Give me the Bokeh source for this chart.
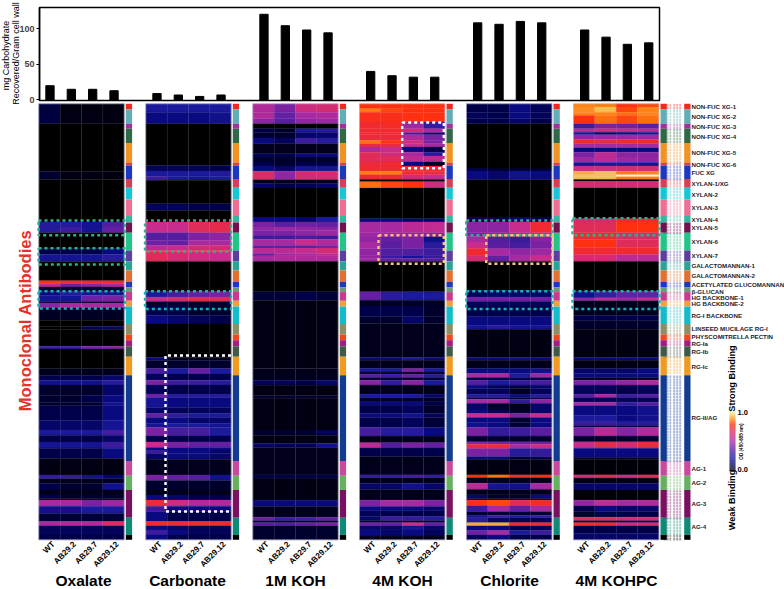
from bokeh.plotting import figure
from bokeh.layouts import column
from bokeh.models import Range1d, FixedTicker
from bokeh.core.properties import value
from bokeh.embed import file_html
from bokeh.resources import INLINE
import math

genotypes = ["WT", "AB29.2", "AB29.7", "AB29.12"]
fractions = ["Oxalate", "Carbonate", "1M KOH", "4M KOH", "Chlorite", "4M KOHPC"]

carb_oxalate = [20, 15, 15, 13]
carb_carbonate = [9, 7, 5, 7]
carb_1m_koh = [120, 104, 98, 94]
carb_4m_koh = [40, 34, 32, 32]
carb_chlorite = [108, 106, 110, 108]
carb_4m_kohpc = [98, 88, 78, 80]

# Heat bands: (first row, WT, AB29.2, AB29.7, AB29.12); each band lasts until the next one. Binding x 100.
heat_oxalate = [
 (0,7,2,2,2),(6.9,0,0,0,0),(23.3,5,2,2,2),(26.1,0,0,0,0),(40.8,25,25,20,35),(42.5,25,30,20,38),(44.5,0,0,0,0),
 (50,8,8,8,15),(52,20,20,20,25),(54.4,0,0,0,0),(61.1,78,72,72,72),(62.1,55,40,45,50),(63.2,5,5,5,5),
 (64.9,15,25,20,20),(66.1,20,20,40,42),(68.2,5,5,5,5),(68.8,45,50,50,50),(70.4,4,4,4,4),(74.7,0,0,0,0),
 (76.8,0,0,10,12),(77.8,0,0,0,0),(83.7,30,30,42,44),(84.6,0,0,0,0),(91.4,3,3,3,3),(93.7,8,8,8,12),
 (95.4,18,18,18,25),(97.1,5,5,5,12),(100.6,5,5,8,15),(103,5,5,5,18),(104.2,8,8,8,15),(109.2,12,12,12,20),
 (112.6,22,22,22,32),(114.4,8,8,8,12),(116.7,20,20,20,30),(118.9,8,8,8,15),(122.4,2,2,2,2),(128.1,28,28,18,12),
 (129.4,3,3,3,3),(131,8,5,5,18),(133.3,3,3,3,3),(135,8,5,5,5),(136.2,3,3,3,3),(136.8,50,50,42,48),(138.9,18,18,22,22),
 (141.4,6,6,6,6),(144.2,50,52,52,64),(145.7,10,10,10,10),(148.8,8,8,8,8),
]
heat_carbonate = [
 (0,22,22,22,22),(2.9,15,15,15,18),(6.9,0,0,0,0),(21.3,10,10,10,8),(23.2,22,22,22,24),(25,30,22,20,22),(26.4,0,0,0,0),
 (34.5,10,10,8,8),(36.8,0,0,0,0),(40.8,58,58,66,68),(44.5,35,35,42,45),(47.1,40,38,50,50),(48.9,55,58,62,62),
 (50.6,72,72,72,72),(51.1,66,62,60,58),(54.4,0,0,0,0),(64.9,22,32,38,42),(66.7,58,62,68,66),(68.2,5,5,5,5),
 (69.8,8,8,5,5),(73,15,12,10,8),(76,0,0,0,0),(87.6,15,3,3,3),(88.5,5,5,5,5),(91.4,32,22,38,22),(93.3,10,8,8,8),
 (95.4,42,30,30,25),(97.1,10,8,8,8),(100.2,40,25,25,25),(101.4,20,15,15,15),(104.8,12,10,10,10),(106.9,38,28,22,22),
 (108.3,15,15,12,12),(110.3,20,22,22,20),(111.7,42,32,32,22),(114.7,8,8,8,8),(116.7,58,42,38,38),(118.6,15,15,15,15),
 (119.5,30,15,15,12),(120.7,12,15,15,12),(122.7,3,3,3,3),(128.1,42,38,35,18),(130,5,5,5,5),(133.3,3,3,3,3),
 (135,15,12,8,8),(136.8,70,60,52,52),(138.9,30,15,15,15),(140.8,15,8,8,8),(144.2,72,70,72,72),(145.7,15,12,10,10),
 (147.1,30,15,10,10),(148.8,15,8,8,8),
]
heat_1m_koh = [
 (0,52,42,60,62),(2.9,52,38,50,52),(5.2,45,36,46,48),(6.9,0,0,0,0),(8.6,8,5,22,25),(9.8,5,5,12,12),(11.8,15,10,30,25),
 (13.8,3,3,3,3),(17.2,10,8,15,15),(18.4,5,5,5,5),(20.1,8,5,8,8),(21.5,15,12,20,20),(23.3,64,46,62,62),(26.2,3,3,3,3),
 (27.6,12,8,10,12),(29.1,0,0,0,0),(39.1,15,15,12,22),(40.8,42,36,40,38),(42.5,46,48,46,44),(43.7,42,42,45,48),
 (45.6,30,30,32,30),(46.8,50,50,58,52),(48.9,36,36,36,40),(49.8,55,55,58,62),(51.7,38,48,50,55),(52.5,50,52,52,52),
 (54.4,0,0,0,0),(64.9,6,6,8,6),(67.8,2,2,2,2),(91.4,3,3,3,3),(95.4,10,10,8,12),(97.1,2,2,2,2),(100.6,5,5,5,5),
 (101.6,2,2,2,2),(112.6,5,5,5,10),(114.4,2,2,2,2),(117.2,12,10,10,18),(118.6,3,3,3,3),(128.1,8,8,8,8),(129.2,2,2,2,2),
 (136.8,14,14,14,14),(139,3,3,3,3),(142.7,40,30,32,38),(143.9,5,5,5,5),(144.6,36,34,38,42),(145.7,5,5,5,5),
]
heat_4m_koh = [
 (0,78,78,78,78),(1.7,85,80,78,78),(2.9,76,76,78,78),(6.3,72,74,48,28),(8.6,72,72,60,50),(10,72,72,30,12),(10.7,70,70,52,42),
 (12.6,84,78,60,42),(13.8,70,70,58,50),(14.9,52,58,15,8),(16.7,66,60,50,25),(18,66,66,55,55),(20.1,70,72,15,4),(21.5,72,72,72,72),
 (23.3,85,85,72,70),(24.5,72,72,62,58),(26.1,0,0,2,2),(26.9,84,80,78,60),(29.1,0,0,0,0),(39.7,15,15,12,12),(40.8,50,50,54,56),
 (44.5,48,48,46,44),(46,46,38,42,18),(47.7,50,36,42,26),(50,46,34,34,30),(52.5,46,30,20,30),(53.3,48,38,38,35),(54.4,0,0,0,0),
 (64.9,38,26,22,22),(67.8,4,4,4,4),(69.8,8,8,8,5),(73.5,5,5,12,5),(75.8,3,3,3,3),(87.6,15,15,22,15),(88.5,3,3,3,3),(91.4,22,22,42,22),
 (92.6,3,3,3,3),(93.3,35,30,38,25),(94.5,5,5,5,5),(95.4,44,28,44,22),(97.1,3,3,3,3),(100.2,22,22,22,12),(101.4,5,5,5,5),
 (102.9,15,15,15,8),(104,8,8,10,5),(106.9,15,15,18,10),(108.3,8,8,10,6),(111.7,32,25,25,15),(114.7,3,3,3,3),(117,55,35,42,38),
 (118.8,8,8,8,8),(121.8,3,3,3,3),(128.1,28,28,32,28),(129.1,3,3,3,3),(131,12,12,18,12),(133.1,3,3,3,3),(136.8,42,50,50,42),
 (139,15,15,15,12),(140.5,10,8,8,8),(142.5,12,30,28,25),(143.9,5,5,5,5),(144.6,40,38,58,38),(145.7,12,12,20,12),(147.1,15,12,15,10),
 (149.2,3,3,3,3),
]
heat_chlorite = [
 (0,8,8,15,10),(2.9,10,8,15,10),(5.2,8,8,12,8),(6.9,0,0,0,0),(22.2,8,5,5,5),(23.2,15,12,18,15),(26.2,0,0,0,0),(39.1,8,8,12,8),
 (40.8,45,45,58,72),(44.5,42,45,52,58),(45.8,50,35,30,44),(47.7,58,36,32,42),(50,72,50,46,48),(52.5,62,38,50,58),(54.4,0,0,0,0),
 (64.4,10,12,12,12),(66.7,40,40,40,40),(68.2,10,10,10,10),(69.8,8,8,8,8),(73.5,15,15,15,15),(76.4,20,25,20,20),(77.8,2,2,2,2),
 (87.6,15,15,18,15),(88.5,3,3,3,3),(91.4,15,15,15,18),(93.1,50,50,22,48),(94.5,8,8,8,8),(95.4,35,22,28,32),(97.1,15,10,8,12),
 (98.3,10,10,3,10),(100.2,25,25,15,25),(101.4,8,8,5,8),(102,50,50,28,45),(103.4,12,5,3,12),(105.7,15,10,5,12),(106.9,58,58,42,58),
 (108.3,15,15,5,15),(110,18,15,6,15),(111.7,42,28,30,36),(114.7,5,5,5,5),(116.7,45,42,40,40),(117.5,70,72,50,60),(119,42,42,25,28),
 (121.8,15,15,8,10),(122.7,2,2,2,2),(128.1,78,84,72,76),(129.1,3,3,3,3),(131,55,20,18,50),(133.1,3,3,3,3),(135,12,5,5,15),
 (136.2,3,3,3,3),(136.8,76,80,66,72),(138.8,30,50,38,50),(140.8,5,5,5,5),(142,18,30,22,28),(142.9,25,12,10,10),(144.6,90,90,72,72),
 (145.7,15,15,8,10),(147.3,40,50,22,30),(148.8,10,15,8,8),
]
heat_4m_kohpc = [
 (0,86,85,78,80),(1.1,87,92,80,86),(2.9,86,86,84,86),(4,78,84,80,84),(6.9,30,42,40,36),(8.6,55,60,58,55),(9.8,20,12,15,20),
 (10.7,46,48,48,48),(12.3,72,68,72,72),(13.8,50,50,50,50),(15.3,15,15,15,15),(16.7,42,55,45,45),(18.4,48,55,48,46),(20.3,20,22,22,20),
 (21.5,60,60,62,62),(23.3,90,92,85,86),(24.5,92,92,100,100),(25.2,92,92,85,85),(26.1,0,0,0,0),(26.8,62,62,62,62),(29.1,0,0,0,0),
 (39.7,62,62,72,72),(40.8,66,66,78,78),(44.5,72,72,64,64),(46.8,78,78,66,66),(49.6,72,72,72,72),(52,62,62,55,55),(54.4,0,0,0,0),
 (64.8,18,30,38,38),(67,45,55,48,58),(68,3,3,3,3),(73,8,8,8,8),(74.7,5,5,5,5),(77.8,2,2,2,2),(87.6,15,15,15,15),(88.5,2,2,2,2),
 (91.4,12,12,12,15),(93.1,15,15,15,15),(94.5,4,4,4,4),(95.4,42,42,46,52),(97.1,10,10,8,10),(100.2,35,50,30,35),(101.4,10,10,10,10),
 (103,50,50,28,35),(104.2,15,15,15,18),(107.5,22,22,15,18),(109.8,30,30,25,25),(111,8,8,8,8),(111.7,42,54,44,52),(114.7,5,5,5,5),
 (116.7,58,68,62,70),(118.9,15,15,15,15),(122,5,5,5,5),(122.7,1,1,1,1),(128.1,62,66,60,66),(129.2,2,2,2,2),(131,12,12,12,12),
 (133.3,1,1,1,1),(136.8,46,56,50,52),(138.8,8,15,12,12),(140.8,5,8,8,8),(142.7,66,66,62,62),(143.9,8,8,8,8),(144.6,74,72,60,62),
 (145.7,8,8,8,8),(148.3,12,12,12,12),
]

# Antibody groups: first row and strip colour, label shown beside the strip.
group_starts = [0,2,6.9,8.6,13.5,20.3,21.3,26,29,33,38.7,41,44.5,50.6,54.4,57.5,61.5,63.4,65,68,70,76,79.6,81.6,83.7,87.3,93.7,123.3,128.4,133.3,142.9,148.8]
group_colors = ["#f02a1e","#62aeb6","#a0329a","#2f6a46","#ef9324","#e04038","#1a38c0","#d83e52","#10c8d8","#ee6e94","#30b8a0","#74104e",
 "#22c488","#5a3ea0","#2aa595","#e2702e","#1a38c0","#6a9a78","#c83a90","#eeA040","#12bcc8","#8c8e66","#f0481a","#a01e80","#3e5a48","#f09a20","#123c90","#c84a9c","#66b060","#7a1060","#0e8a76","#000000"]
group_labels = ["NON-FUC XG-1","NON-FUC XG-2","NON-FUC XG-3","NON-FUC XG-4","NON-FUC XG-5","NON-FUC XG-6","FUC XG","XYLAN-1/XG","XYLAN-2","XYLAN-3","XYLAN-4","XYLAN-5","XYLAN-6","XYLAN-7","GALACTOMANNAN-1","GALACTOMANNAN-2","ACETYLATED GLUCOMANNAN","β-GLUCAN","HG BACKBONE-1","HG BACKBONE-2","RG-I BACKBONE","LINSEED MUCILAGE RG-I","PHYSCOMITRELLA PECTIN","RG-Ia","RG-Ib","RG-Ic","RG-II/AG","AG-1","AG-2","AG-3","AG-4"]

carb = [carb_oxalate, carb_carbonate, carb_1m_koh, carb_4m_koh, carb_chlorite, carb_4m_kohpc]
heat = [heat_oxalate, heat_carbonate, heat_1m_koh, heat_4m_koh, heat_chlorite, heat_4m_kohpc]

# ---- layout (page pixels) ----
PANEL_LEFT = [38.3, 145.3, 252.3, 359.0, 466.0, 573.0]
PANEL_W = 85.4
COL_W = PANEL_W / 4
TOP, ROW_H, N_ROWS = 103.3, 436 / 150.5, 150.5
def row_y(r): return TOP + r * ROW_H

ANCHORS = [(0,"#000000"),(8,"#00004a"),(15,"#0a0a80"),(22,"#1a1a9a"),(30,"#3a1c9c"),(40,"#7020a4"),(50,"#a82aa0"),(58,"#c82c8c"),
           (66,"#e02c58"),(72,"#f02a30"),(78,"#ff3010"),(85,"#ff7a10"),(92,"#f5c050"),(100,"#fff8c0")]
def cmap(v):
    for (a, ca), (b, cb) in zip(ANCHORS, ANCHORS[1:]):
        if v <= b:
            t = (v - a) / (b - a)
            rgb = [round(int(ca[i:i+2],16)*(1-t) + int(cb[i:i+2],16)*t) for i in (1,3,5)]
            return "#%02x%02x%02x" % tuple(rgb)
    return ANCHORS[-1][1]

FONT = value("Liberation Sans")

# ---- bar chart ----
FR_L, FR_R = 39, 659
def carb_val(py): return (99.5 - py) * 100 / 71.2
p1 = figure(width=784, height=110, output_backend="svg", toolbar_location=None,
            x_range=Range1d(FR_L, FR_R), y_range=Range1d(carb_val(100), carb_val(7.3)),
            min_border_left=FR_L, min_border_right=784-FR_R, min_border_top=7, min_border_bottom=10,
            x_axis_type=None, background_fill_color="white", border_fill_color=None)
p1.grid.visible = False
p1.frame_align = False
p1.outline_line_color = "black"
p1.outline_line_width = 1.5
for i, vals in enumerate(carb):
    xs = [PANEL_LEFT[i] + COL_W * (j + .5) + .5 for j in range(4)]
    p1.vbar(x=xs, top=vals, bottom=0, width=8.3, color="black")
ax = p1.yaxis[0]
ax.ticker = FixedTicker(ticks=[0, 50, 100])
ax.major_label_text_font = "Liberation Sans"
ax.major_label_text_font_style = "bold"
ax.major_label_text_font_size = "9px"
ax.major_label_standoff = 2
ax.axis_line_color = "black"
ax.axis_line_width = 1.5
ax.major_tick_line_width = 1.2
ax.major_tick_out = 3
ax.major_tick_in = 0
ax.minor_tick_line_color = None

# ---- heat maps: a transparent page-sized figure laid over the bar chart ----
p2 = figure(width=784, height=589, output_backend="svg", toolbar_location=None,
            x_range=Range1d(0, 784), y_range=Range1d(589, 0), x_axis_type=None, y_axis_type=None,
            min_border=0, min_border_left=0, min_border_right=0, min_border_top=0, min_border_bottom=0,
            background_fill_color=None, border_fill_color=None, outline_line_color=None)
p2.grid.visible = False
p2.frame_align = False
p2.margin = (-110, 0, 0, 0)

L, R, T, B, C = [], [], [], [], []
for i, bands in enumerate(heat):
    for k, band in enumerate(bands):
        start, vals = band[0], band[1:]
        end = bands[k+1][0] if k + 1 < len(bands) else N_ROWS
        for j, v in enumerate(vals):
            L.append(PANEL_LEFT[i] + COL_W * j); R.append(PANEL_LEFT[i] + COL_W * (j + 1))
            T.append(row_y(start)); B.append(row_y(end)); C.append(cmap(v))
p2.quad(left=L, right=R, top=T, bottom=B, fill_color=C, line_color=C, line_width=0.3)

# faint column seams and panel edge
for x0 in PANEL_LEFT:
    p2.segment(x0=[x0+COL_W*j for j in (1,2,3)], x1=[x0+COL_W*j for j in (1,2,3)], y0=row_y(0), y1=row_y(N_ROWS),
               line_color="#ffffff", line_alpha=0.05, line_width=1)
    p2.quad(left=x0, right=x0+PANEL_W, top=row_y(0), bottom=row_y(N_ROWS), fill_color=None, line_color="#b8b8c8", line_width=0.6)

# colour strips
sL, sR, sT, sB, sC = [], [], [], [], []
ends = group_starts[1:] + [N_ROWS]
for x0 in PANEL_LEFT:
    for s, e, c in zip(group_starts, ends, group_colors):
        sL.append(x0+PANEL_W+1.6); sR.append(x0+PANEL_W+7.9); sT.append(row_y(s)); sB.append(row_y(e)); sC.append(c)
for s, e, c in zip(group_starts, ends, group_colors):
    sL.append(683.7); sR.append(690); sT.append(row_y(s)); sB.append(row_y(e)); sC.append(c)
p2.quad(left=sL, right=sR, top=sT, bottom=sB, fill_color=sC, line_color=None)

# antibody-name columns: unreadably small in the source, shown as dotted tint rows
for x0, x1 in [(663, 670.7), (672.7, 680.7)]:
    x0s, x1s, ys, cs = [], [], [], []
    for s, e, c in zip(group_starts, ends, group_colors):
        r = s
        while r < e - 0.4:
            x0s.append(x0); x1s.append(x1); ys.append(row_y(r + .5)); cs.append(c)
            r += 1
    p2.segment(x0=x0s, x1=x1s, y0=ys, y1=ys, line_color=cs, line_alpha=0.38, line_width=2.4, line_dash="2 1")

# dotted highlight boxes
GREEN, CYAN, WHITE, TAN = "#2fae90", "#18b0b8", "#ffffff", "#f6c47a"
boxes = [(38,124.5,220,234.7,GREEN),(38,124.5,247.7,264,GREEN),(38,124.5,290.7,308,CYAN),
         (144.5,230.5,220,251,GREEN),(144.5,230.5,290.7,308.5,CYAN),
         (401.7,443.3,122,167.7,WHITE),(378,443.3,234.7,263.3,TAN),
         (465.7,552,220,234.7,GREEN),(485.7,552,234.7,263.3,TAN),(465.7,552,290.7,308.5,CYAN),
         (572,659,217.7,234.7,GREEN),(572,659,290.7,308.5,CYAN)]
for l, r, t, b, c in boxes:
    p2.line(x=[l, r, r, l, l], y=[t, t, b, b, t], line_color=c, line_width=2.4, line_dash="3 3")
p2.line(x=[230.5, 165, 165, 230.5], y=[355, 355, 511, 511], line_color=WHITE, line_width=2.4, line_dash="3 3")

# bar chart axis title
p2.text(x=[5, 15], y=[55, 53], text=["mg Carbohydrate", "Recovered/Gram cell wall"], angle=math.pi/2,
        text_align="center", text_baseline="middle", text_font=FONT, text_font_size="9px", text_color="black")

# tick labels under panels
tx, ty, tt = [], [], []
for x0 in PANEL_LEFT:
    for j, g in enumerate(genotypes):
        tx.append(x0 + COL_W * (j + .5) + 4); ty.append(542.5); tt.append(g)
p2.text(x=tx, y=ty, text=tt, angle=math.pi/4, text_align="right", text_baseline="middle",
        text_font=FONT, text_font_size="8.2px", text_font_style="bold", text_color="black")

# panel titles
title_x = [83, 187, 295, 402, 509, 616]
p2.text(x=title_x, y=[580.3]*6, text=fractions, text_align="center", text_baseline="middle",
        text_font=FONT, text_font_size="15.5px", text_font_style="bold", text_color="black")

# group labels
label_y = [106,115.5,126,136,152,164,172,183,194,207,219,227,241,255,265,275,284,290.5,297,303,315,328,336,343,351,366,417,468,482,503,526]
p2.text(x=[691]*len(group_labels), y=label_y, text=group_labels, text_align="left", text_baseline="middle",
        text_font=FONT, text_font_size="6.2px", text_font_style="bold", text_color="#1c1c30")

# side title
p2.text(x=[24], y=[320], text=["Monoclonal Antibodies"], angle=math.pi/2, text_align="center", text_baseline="middle",
        text_font=FONT, text_font_size="16.5px", text_font_style="bold", text_color="#e8302a")

# colour bar
stops = [k for k in range(100)]
p2.quad(left=729, right=735, top=[470.7 - (k+1)*0.6 for k in stops], bottom=[470.7 - k*0.6 for k in stops],
        fill_color=[cmap(k) for k in stops], line_color=None)
p2.text(x=[737, 737], y=[411.5, 469], text=["1.0", "0.0"], text_align="left", text_baseline="middle",
        text_font=FONT, text_font_size="7.5px", text_font_style="bold", text_color="black")
p2.text(x=[740.5], y=[441], text=["OD (450-655 nm)"], angle=math.pi/2, text_align="center", text_baseline="middle",
        text_font=FONT, text_font_size="4.6px", text_font_style="bold", text_color="black")
p2.text(x=[731.7, 731.7], y=[378, 499.5], text=["Strong Binding", "Weak Binding"], angle=math.pi/2, text_align="center", text_baseline="middle",
        text_font=FONT, text_font_size="9.2px", text_font_style="bold", text_color="black")

page = column(p1, p2, spacing=0)
open("out.html", "w").write(file_html(page, INLINE))
